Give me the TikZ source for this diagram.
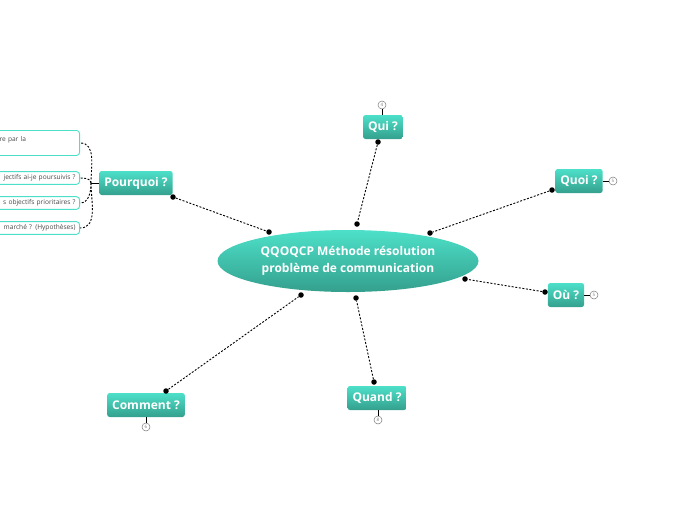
\documentclass[tikz,border=0pt]{standalone}
\usepackage{fontspec}
\setmainfont{Open Sans}
\usetikzlibrary{shapes.geometric}
\definecolor{qqTop}{HTML}{4DE0C9}
\definecolor{qqBot}{HTML}{34A08D}
\definecolor{qqText}{HTML}{4A4A4A}
\definecolor{qqGray}{HTML}{7A7A7A}
\tikzset{
  qqmain/.style={ellipse,top color=qqTop,bottom color=qqBot,draw=none,
                 minimum width=261pt,minimum height=62pt,inner sep=0pt,
                 text=white,font=\fontsize{12}{16.5}\selectfont\bfseries,align=center},
  qqtopic/.style={rectangle,rounded corners=2.5pt,top color=qqTop,bottom color=qqBot,
                  minimum height=24pt,inner xsep=5pt,text=white,
                  font=\fontsize{12}{14}\selectfont\bfseries},
  qqchild/.style={rectangle,rounded corners=3pt,draw=qqTop,fill=white,line width=0.9pt,
                  inner xsep=4pt,inner ysep=3pt,text=qqText,
                  font=\fontsize{6.6}{8}\selectfont},
  qqlink/.style={black,line width=0.9pt,dash pattern=on 2pt off 1.6pt},
  qqdot/.style={circle,fill=black,inner sep=0pt,minimum size=5.5pt},
  qqcount/.style={circle,draw=qqGray,fill=white,line width=0.5pt,inner sep=0pt,
                  minimum size=8pt,text=qqGray,font=\fontsize{4.5}{5}\selectfont},
  qqstub/.style={black,line width=1pt}
}
\begin{document}
\begin{tikzpicture}[x=1pt,y=-1pt]
  \useasboundingbox (0,0) rectangle (696,520);

  % centre
  \node[qqmain] (main) at (348,261) {QQOQCP Méthode résolution\\problème de communication};

  % branches
  \node[qqtopic] (qui) at (383,127) {Qui ?};
  \node[qqtopic] (quoi) at (579,181) {Quoi ?};
  \node[qqtopic] (ou) at (566,295) {Où ?};
  \node[qqtopic] (quand) at (377,398) {Quand ?};
  \node[qqtopic] (comment) at (146,405) {Comment ?};
  \node[qqtopic] (pourquoi) at (136,183) {Pourquoi ?};

  % link ends
  \node[qqdot] (quiA) at (378,142) {};
  \node[qqdot] (quiB) at (357,224) {};
  \node[qqdot] (quoiA) at (552,190) {};
  \node[qqdot] (quoiB) at (430,233) {};
  \node[qqdot] (ouA) at (545,292) {};
  \node[qqdot] (ouB) at (465,279) {};
  \node[qqdot] (quandA) at (374,382) {};
  \node[qqdot] (quandB) at (356,298) {};
  \node[qqdot] (commentA) at (166,391) {};
  \node[qqdot] (commentB) at (301,295) {};
  \node[qqdot] (pourquoiA) at (173,197) {};
  \node[qqdot] (pourquoiB) at (269,232) {};

  \draw[qqlink] (quiA) -- (quiB);
  \draw[qqlink] (quoiA) -- (quoiB);
  \draw[qqlink] (ouA) -- (ouB);
  \draw[qqlink] (quandA) -- (quandB);
  \draw[qqlink] (commentA) -- (commentB);
  \draw[qqlink] (pourquoiA) -- (pourquoiB);

  % counters
  \node[qqcount] (quiN) at (382,105) {4};
  \node[qqcount] (quoiN) at (613,181) {5};
  \node[qqcount] (ouN) at (594,295) {5};
  \node[qqcount] (quandN) at (378,420) {8};
  \node[qqcount] (commentN) at (146,427) {6};
  \draw[qqstub] (quiN) -- (quiN |- qui.north);
  \draw[qqstub] (quoiN) -- (quoi.east);
  \draw[qqstub] (ouN) -- (ou.east);
  \draw[qqstub] (quandN) -- (quandN |- quand.south);
  \draw[qqstub] (commentN) -- (comment.south);

  % pourquoi children
  \begin{scope}
    \clip (0,0) rectangle (696,520);
    \node[qqchild,anchor=north east,text width=76pt,align=left,minimum height=25pt]
      (pq1) at (80,130) {re par la\\\mbox{}};
    \node[qqchild,anchor=east,text width=120pt,align=right] (pq2) at (80,178)
      {jectifs ai-je poursuivis ?};
    \node[qqchild,anchor=east,text width=120pt,align=right] (pq3) at (80,203)
      {s objectifs prioritaires ?};
    \node[qqchild,anchor=east,text width=120pt,align=right] (pq4) at (80,228)
      {marché ? (Hypothèses)};
  \end{scope}
  \coordinate (pqj) at (91,183);
  \draw[qqstub] (pourquoi.west) -- (pqj);
  \draw[qqlink] (pqj) to[out=90,in=0] (pq1.east);
  \draw[qqlink] (pqj) to[out=90,in=0] (pq2.east);
  \draw[qqlink] (pqj) to[out=-90,in=0] (pq3.east);
  \draw[qqlink] (pqj) to[out=-90,in=0] (pq4.east);
\end{tikzpicture}
\end{document}
